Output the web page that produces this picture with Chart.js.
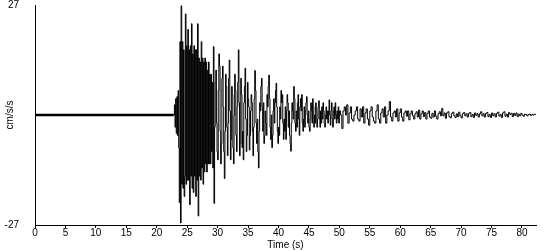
<!DOCTYPE html>
<html>
<head>
<meta charset="utf-8">
<script src="https://cdn.jsdelivr.net/npm/chart.js@4"></script>
<style>
  body { margin: 0; background: #fff; }
  #wrap { width: 550px; height: 250px; }
</style>
</head>
<body>
<div id="wrap"><canvas id="accelChart"></canvas></div>
<script>
// Tick labels
const xTicks = [0, 5, 10, 15, 20, 25, 30, 35, 40, 45, 50, 55, 60, 65, 70, 75, 80];
const yTicks = [-27, 27];

// Quiet part before the arrival (s)
const preEventTimes = [0, 22.8];
const preEventValues = [0, 0];

// Strong motion, one sample every 0.1 s from 22.8 s (cm/s/s)
const burstStart = 22.8;
const burstStep = 0.1;
const burstValues = [
    0, 2.5, -3, 4, -4.5, 4.5, -5, 6, -8, -21.5,
    18, -26.5, 26.8, -17, 18, -18, 16, -20, -15, 24.8,
    -17, 17, -16, 21, -16, 16, -22, 17, -15, 22.4,
    -18, 15, -19, 17, -15, 16, -20, 16, -16, 22.4,
    -24.8, 14, -15, 13, -16, 18, -13, 14, -17, 13,
    -14, 14, -12, 13, -14, 11, -12, 13, -12, 10,
    -12, 10, -9, 8, -13, 16.8, -21.7, -3, 8, 11,
    -2, -9, -11, 6, 15, 12, -4, -12, -7, 9,
    12, 2, -9, -15.6, -4, 10, 7, -3, -10, -2,
    9, 13.5, 1, -11, -6, 7, 5, -8, -12, 0,
    10, 6, -5, -9, 2, 8, 16, 3, -10, -7,
    9, 5, -8, -4, -11, 3, 7, 11.5, -1, -9,
    -5, 8, 4
];

// Decaying part, one sample every 0.1 s from 35.1 s (cm/s/s)
const midStart = 35.1;
const midStep = 0.1;
const midValues = [
    2, -8.6, -5, 1, 5, 3, -4, -10, -3, 4,
    10.9, 6, -2, -7, -1, -9, -13, -4, 3, 1,
    7, 9, 2, -4, 3, -7, -5, 1, -2, -5,
    5, 2, 7, 9.8, 4, -3, -6, 0, -8, -5,
    1, 4, -2, 3, 6, 7.8, 2, -4, -7, -3,
    -5, 2, -1, 6, 3, 5, -2, -6, -1, -4,
    2, -6, 1, 5, 3, -3, 1, -5, -7, -8.9,
    -2, 3, 1, -1, 7, 4, -2, -4, 1, -3,
    3, 5, -1, -5, 2, 4, 1, 5, -2, -4,
    -1, 2, -3, 1, 3, 4.5, 0, -2, 1, -3,
    -4, -1, 3, 1, -2, 4, 2, -3, 0, -2,
    3, 1, -3, -1, 2, 3.5, -1, -3, 1, -2,
    2, -1, 3, 1, -2, -3, 0, 2, -1, 1,
    -2, 1, 3.7, 0, -2.5, 1, 3, -1, -3, 1,
    2, -1, 3, 0, -2, 1, -1, 2, -2, 1
];

// Coda, one sample every 0.2 s from 50.2 s (cm/s/s)
const codaStart = 50.2;
const codaStep = 0.2;
const codaValues = [
    0, -3.3, 1, 2, 0,
    2.5, -2, 0.5, 2, -1, -1.5, 0, 1, 2, -1,
    -1.5, 1.5, -0.5, 2, -2, 0.5, 1.5, -1, -2.5, 1,
    2, -0.5, -1.5, -2, 1, 2.5, -1, -2, 0.5, 1.5,
    -0.5, 2, -2, 0, 1, 3.3, -0.5, -1.5, 0.5, 1,
    -0.5, 1.5, -1.5, 0.5, 1.5, -0.5, -1.5, 0.5, 1, -0.3,
    1, -1.2, 0.3, 1, -0.2, -1, 0.3, 0.8, -0.5, 1.2,
    -1, 0.3, 1, -0.4, 0.6, -1, 0.4, 1, -0.5, -0.8,
    0.4, -0.5, 1, -0.3, -1, 0.3, 0.8, -0.2, 1.6, -0.2,
    0.5, -0.8, 0.5, 0.8, -0.4, -0.7, 0.4, 0.7, -0.2, -0.6,
    0.3, -0.4, 0.7, -0.2, -0.7, 0.3, 0.6, -0.2, 0.3, -0.5,
    0.4, 0.6, -0.4, 0.1, -0.6, 0.5, -0.1, 0.3, -0.5, 0.3,
    0.8, -0.2, 0.3, -0.5, 0.4, 0.6, -0.4, 0.1, -0.6, 0.5,
    -0.2, 0.3, -0.5, 0.4, 0.7, -0.3, 0.1, -0.6, 0.5, 0.8,
    -0.3, 0.2, -0.5, 0.6, 0.1, 0.4, -0.4, 0.4, -0.1, 0.5,
    -0.4, 0.2, -0.2, 0.4, 0, -0.3, 0.2, 0.1, -0.2, 0.1,
    0.2, -0.1, 0.1, 0, 0.2, 0
];

const traceEnd = 82.3;

function samples(start, step, values) {
    return values.map((v, i) => ({ x: +(start + i * step).toFixed(2), y: v }));
}

const preEventPoints = preEventTimes.map((t, i) => ({ x: t, y: preEventValues[i] }));
const tracePoints = samples(burstStart, burstStep, burstValues)
    .concat(samples(midStart, midStep, midValues))
    .concat(samples(codaStart, codaStep, codaValues));

const fontSpec = { family: 'Liberation Sans, Arial, sans-serif', size: 10, lineHeight: 1 };

const ctx = document.getElementById('accelChart').getContext('2d');
const accelChart = new Chart(ctx, {
    type: 'line',
    data: {
        datasets: [
            {
                data: preEventPoints,
                borderColor: '#000',
                borderWidth: 2.5,
                pointRadius: 0
            },
            {
                data: tracePoints,
                borderColor: '#000',
                borderWidth: 1,
                pointRadius: 0,
                stepped: true
            }
        ]
    },
    options: {
        responsive: true,
        maintainAspectRatio: false,
        animation: false,
        layout: { padding: { right: 14 } },
        plugins: {
            legend: { display: false },
            tooltip: { enabled: false }
        },
        scales: {
            x: {
                type: 'linear',
                min: 0,
                max: traceEnd,
                afterBuildTicks: (scale) => { scale.ticks = xTicks.map(v => ({ value: v })); },
                ticks: { color: '#000', font: fontSpec, padding: 0, maxRotation: 0, autoSkip: false },
                grid: { drawOnChartArea: false, drawTicks: true, tickLength: 3, color: '#000' },
                border: { color: '#000' },
                title: {
                    display: true,
                    text: 'Time (s)',
                    color: '#000',
                    font: fontSpec,
                    padding: { top: 2, bottom: 0 }
                }
            },
            y: {
                min: -27,
                max: 27,
                afterBuildTicks: (scale) => { scale.ticks = yTicks.map(v => ({ value: v })); },
                afterFit: (scale) => {
                    scale.width = 35;
                    scale.paddingTop = 5;
                    scale.paddingBottom = 5;
                },
                ticks: { color: '#000', font: fontSpec, padding: 16 },
                grid: { drawOnChartArea: false, drawTicks: false },
                border: { color: '#000' },
                title: {
                    display: true,
                    text: 'cm/s/s',
                    color: '#000',
                    font: fontSpec,
                    padding: { top: 5, bottom: 0 }
                }
            }
        }
    }
});
</script>
</body>
</html>
